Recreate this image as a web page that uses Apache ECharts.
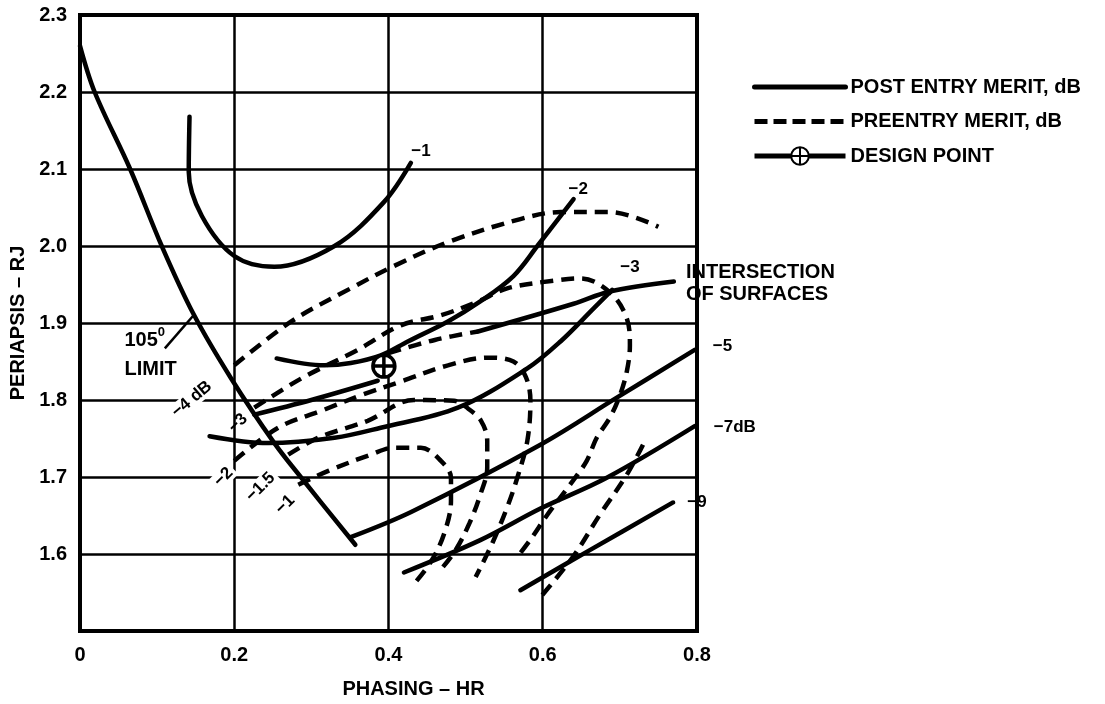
<!DOCTYPE html>
<html>
<head>
<meta charset="utf-8">
<script src="https://cdn.jsdelivr.net/npm/echarts@6/dist/echarts.min.js"></script>
<style>
  html, body { margin: 0; padding: 0; background: #fff; }
  #chart { width: 1105px; height: 704px; }
</style>
</head>
<body>
<div id="chart"></div>
<script>
// ---- axis ticks ----
const xTicks = [0, 0.2, 0.4, 0.6, 0.8];
const yTicks = [1.6, 1.7, 1.8, 1.9, 2.0, 2.1, 2.2, 2.3];

// ---- post entry merit (solid) curves, [phasing HR, periapsis RJ] ----
const limit105 = [[0,2.26],[0.019,2.2],[0.065,2.1],[0.106,2.0],[0.147,1.912],[0.196,1.828],[0.252,1.744],[0.287,1.699],[0.357,1.612]];
const post1 = [[0.142,2.168],[0.141,2.096],[0.158,2.039],[0.2,1.987],[0.252,1.973],[0.33,2.0],[0.394,2.057],[0.429,2.108]];
const post2 = [[0.255,1.854],[0.317,1.845],[0.351,1.848],[0.39,1.858],[0.425,1.876],[0.477,1.902],[0.519,1.928],[0.562,1.961],[0.593,2.0],[0.64,2.061]];
const post3 = [[0.168,1.753],[0.244,1.744],[0.33,1.751],[0.39,1.764],[0.49,1.79],[0.58,1.841],[0.623,1.876],[0.666,1.919],[0.69,1.943]];
const post5 = [[0.351,1.622],[0.43,1.655],[0.597,1.742],[0.696,1.803],[0.797,1.865]];
const post7 = [[0.42,1.576],[0.519,1.618],[0.597,1.659],[0.683,1.699],[0.797,1.766]];
const post9 = [[0.571,1.553],[0.661,1.605],[0.769,1.667]];

// ---- intersection of surfaces ----
const intersectLow = [[0.226,1.781],[0.3,1.80],[0.386,1.825]];
const intersectDash = [[0.40,1.861],[0.46,1.878],[0.516,1.889]];
const intersectSolid = [[0.516,1.889],[0.64,1.925],[0.687,1.941],[0.77,1.954]];

// ---- preentry merit (dashed) curves ----
const pre4 = [[0.2,1.845],[0.274,1.902],[0.351,1.945],[0.407,1.974],[0.477,2.005],[0.571,2.035],[0.623,2.044],[0.687,2.044],[0.75,2.025]];
const pre3 = [[0.226,1.79],[0.287,1.828],[0.36,1.865],[0.416,1.897],[0.468,1.91],[0.516,1.928],[0.554,1.945],[0.614,1.955],[0.649,1.958],[0.687,1.94],[0.709,1.906],[0.713,1.871],[0.709,1.837],[0.70,1.806],[0.687,1.777],[0.67,1.751],[0.657,1.721],[0.639,1.695],[0.606,1.651],[0.585,1.62],[0.567,1.596]];
const pre2 = [[0.2,1.721],[0.257,1.764],[0.313,1.786],[0.364,1.806],[0.416,1.824],[0.477,1.845],[0.529,1.855],[0.562,1.85],[0.578,1.83],[0.584,1.799],[0.58,1.747],[0.567,1.699],[0.554,1.661],[0.535,1.615],[0.513,1.57]];
const pre15 = [[0.27,1.729],[0.309,1.751],[0.373,1.773],[0.433,1.8],[0.485,1.799],[0.503,1.789],[0.52,1.773],[0.528,1.747],[0.528,1.712],[0.519,1.677],[0.505,1.64],[0.487,1.605],[0.468,1.58]];
const pre1 = [[0.283,1.69],[0.322,1.708],[0.377,1.729],[0.407,1.738],[0.442,1.738],[0.468,1.721],[0.481,1.699],[0.481,1.669],[0.472,1.626],[0.455,1.59],[0.433,1.561]];
const preB = [[0.73,1.742],[0.709,1.703],[0.674,1.651],[0.639,1.596],[0.597,1.544]];

// ---- design point ----
const designPoint = [[0.394,1.844]];

// ---- texts placed at data positions: [text, x, y, rotation, white backing] ----
const curveLabels = [
  ['\u22121', 0.442, 2.123, 0, false],
  ['\u22122', 0.646, 2.073, 0, false],
  ['\u22123', 0.713, 1.972, 0, false],
  ['\u22125', 0.833, 1.870, 0, false],
  ['\u22127dB', 0.849, 1.764, 0, false],
  ['\u22129', 0.8, 1.667, 0, false],
  ['\u22124 dB', 0.145, 1.801, 40, true],
  ['\u22123', 0.205, 1.770, 45, false],
  ['\u22122', 0.186, 1.700, 45, true],
  ['\u22121.5', 0.234, 1.687, 45, true],
  ['\u22121', 0.266, 1.664, 45, false]
];
const limitArrow = [[0.11,1.867],[0.149,1.912]];

const POST = 'POST ENTRY MERIT, dB';
const PRE = 'PREENTRY MERIT, dB';
const DP = 'DESIGN POINT';
const FONT = '"Liberation Sans", Arial, sans-serif';

function solid(data, name) {
  return { type: 'line', name: name || POST, data: data, smooth: 0.35, symbol: 'none',
           itemStyle: { color: '#000' },
           lineStyle: { color: '#000', width: 4.5, cap: 'round' }, z: 5 };
}
function dashed(data, name) {
  return { type: 'line', name: name || PRE, data: data, smooth: 0.35, symbol: 'none',
           itemStyle: { color: '#000' },
           lineStyle: { color: '#000', width: 4.5, type: [13, 8] }, z: 5 };
}
function textItem(value, label) {
  return { value: value, label: Object.assign({ show: true, fontFamily: FONT, fontWeight: 'bold', color: '#000' }, label) };
}

const chart = echarts.init(document.getElementById('chart'), null, { renderer: 'canvas' });
const option = {
  backgroundColor: '#fff',
  animation: false,
  grid: { left: 78, right: 408, top: 15, bottom: 70, show: true, borderColor: '#000', borderWidth: 4 },
  legend: {
    data: [
      { name: POST, itemStyle: { opacity: 0 }, lineStyle: { color: '#000', width: 5, type: 'solid' } },
      { name: PRE, itemStyle: { opacity: 0 }, lineStyle: { color: '#000', width: 5, type: [13, 6] } },
      { name: DP, lineStyle: { color: '#000', width: 5, type: 'solid' } }
    ],
    orient: 'vertical', left: 752, top: 77, padding: 0,
    itemWidth: 91, itemHeight: 22, itemGap: 14.5,
    textStyle: { fontFamily: FONT, fontWeight: 'bold', fontSize: 20, color: '#000' },
    selectedMode: false
  },
  xAxis: {
    type: 'value', min: 0, max: 0.8, interval: 0.2,
    name: 'PHASING \u2013 HR', nameLocation: 'middle', nameGap: 48,
    nameTextStyle: { fontFamily: FONT, fontWeight: 'bold', fontSize: 20, color: '#000', padding: [0, 0, 0, 50] },
    axisLine: { show: false }, axisTick: { show: false },
    axisLabel: { fontFamily: FONT, fontWeight: 'bold', fontSize: 20, color: '#000', margin: 14,
                 formatter: v => (v === 0 ? '0' : v.toFixed(1)) },
    splitLine: { show: true, lineStyle: { color: '#000', width: 2.5 } }
  },
  yAxis: {
    type: 'value', min: 1.5, max: 2.3, interval: 0.1,
    name: 'PERIAPSIS \u2013 RJ', nameLocation: 'middle', nameGap: 52, nameRotate: 90,
    nameTextStyle: { fontFamily: FONT, fontWeight: 'bold', fontSize: 20, color: '#000' },
    axisLine: { show: false }, axisTick: { show: false },
    axisLabel: { fontFamily: FONT, fontWeight: 'bold', fontSize: 20, color: '#000', margin: 13,
                 formatter: v => (yTicks.some(t => Math.abs(t - v) < 1e-6) ? v.toFixed(1) : '') },
    splitLine: { show: true, lineStyle: { color: '#000', width: 2.5 } }
  },
  series: [
    solid(limit105, 'LIMIT'),
    solid(post1), solid(post2), solid(post3), solid(post5), solid(post7), solid(post9),
    solid(intersectLow, 'INTERSECTION'), dashed(intersectDash, 'INTERSECTION'), solid(intersectSolid, 'INTERSECTION'),
    dashed(pre4), dashed(pre3), dashed(pre2), dashed(pre15), dashed(pre1), dashed(preB),
    { type: 'line', name: 'ARROW', data: limitArrow, symbol: 'none',
      lineStyle: { color: '#000', width: 2.5 }, z: 5 },
    { type: 'line', name: DP, data: designPoint,
      symbol: 'path://M10,0A10,10 0 1,1 9.99,0ZM0,10L20,10M10,0L10,20',
      symbolSize: 22, itemStyle: { color: '#fff', borderColor: '#000', borderWidth: 3.5, opacity: 1 },
      lineStyle: { color: '#000', width: 4.5 }, z: 8 },
    { type: 'scatter', name: 'LABELS', symbolSize: 1, clip: false, silent: true, z: 9,
      itemStyle: { opacity: 1, color: 'rgba(0,0,0,0)' },
      data: curveLabels.map(l => textItem([l[1], l[2]],
        { position: 'inside', formatter: l[0], rotate: l[3], fontSize: 17,
          backgroundColor: l[4] ? '#fff' : 'transparent', padding: l[4] ? [0, 3] : 0 })) },
    { type: 'scatter', name: 'NOTES', symbolSize: 1, clip: false, silent: true, z: 9,
      itemStyle: { opacity: 1, color: 'rgba(0,0,0,0)' },
      data: [
        textItem([0.785, 1.951], { position: 'right', distance: 0, align: 'left',
          formatter: 'INTERSECTION\nOF SURFACES', lineHeight: 22, fontSize: 20 }),
        textItem([0.057, 1.858], { position: 'right', distance: 0, align: 'left',
          formatter: '105{s|0}\nLIMIT', lineHeight: 29, fontSize: 20,
          rich: { s: { fontSize: 13, fontWeight: 'bold', fontFamily: FONT, color: '#000', verticalAlign: 'top', padding: [0, 0, 10, 0] } } })
      ] }
  ]
};
chart.setOption(option);
</script>
</body>
</html>
